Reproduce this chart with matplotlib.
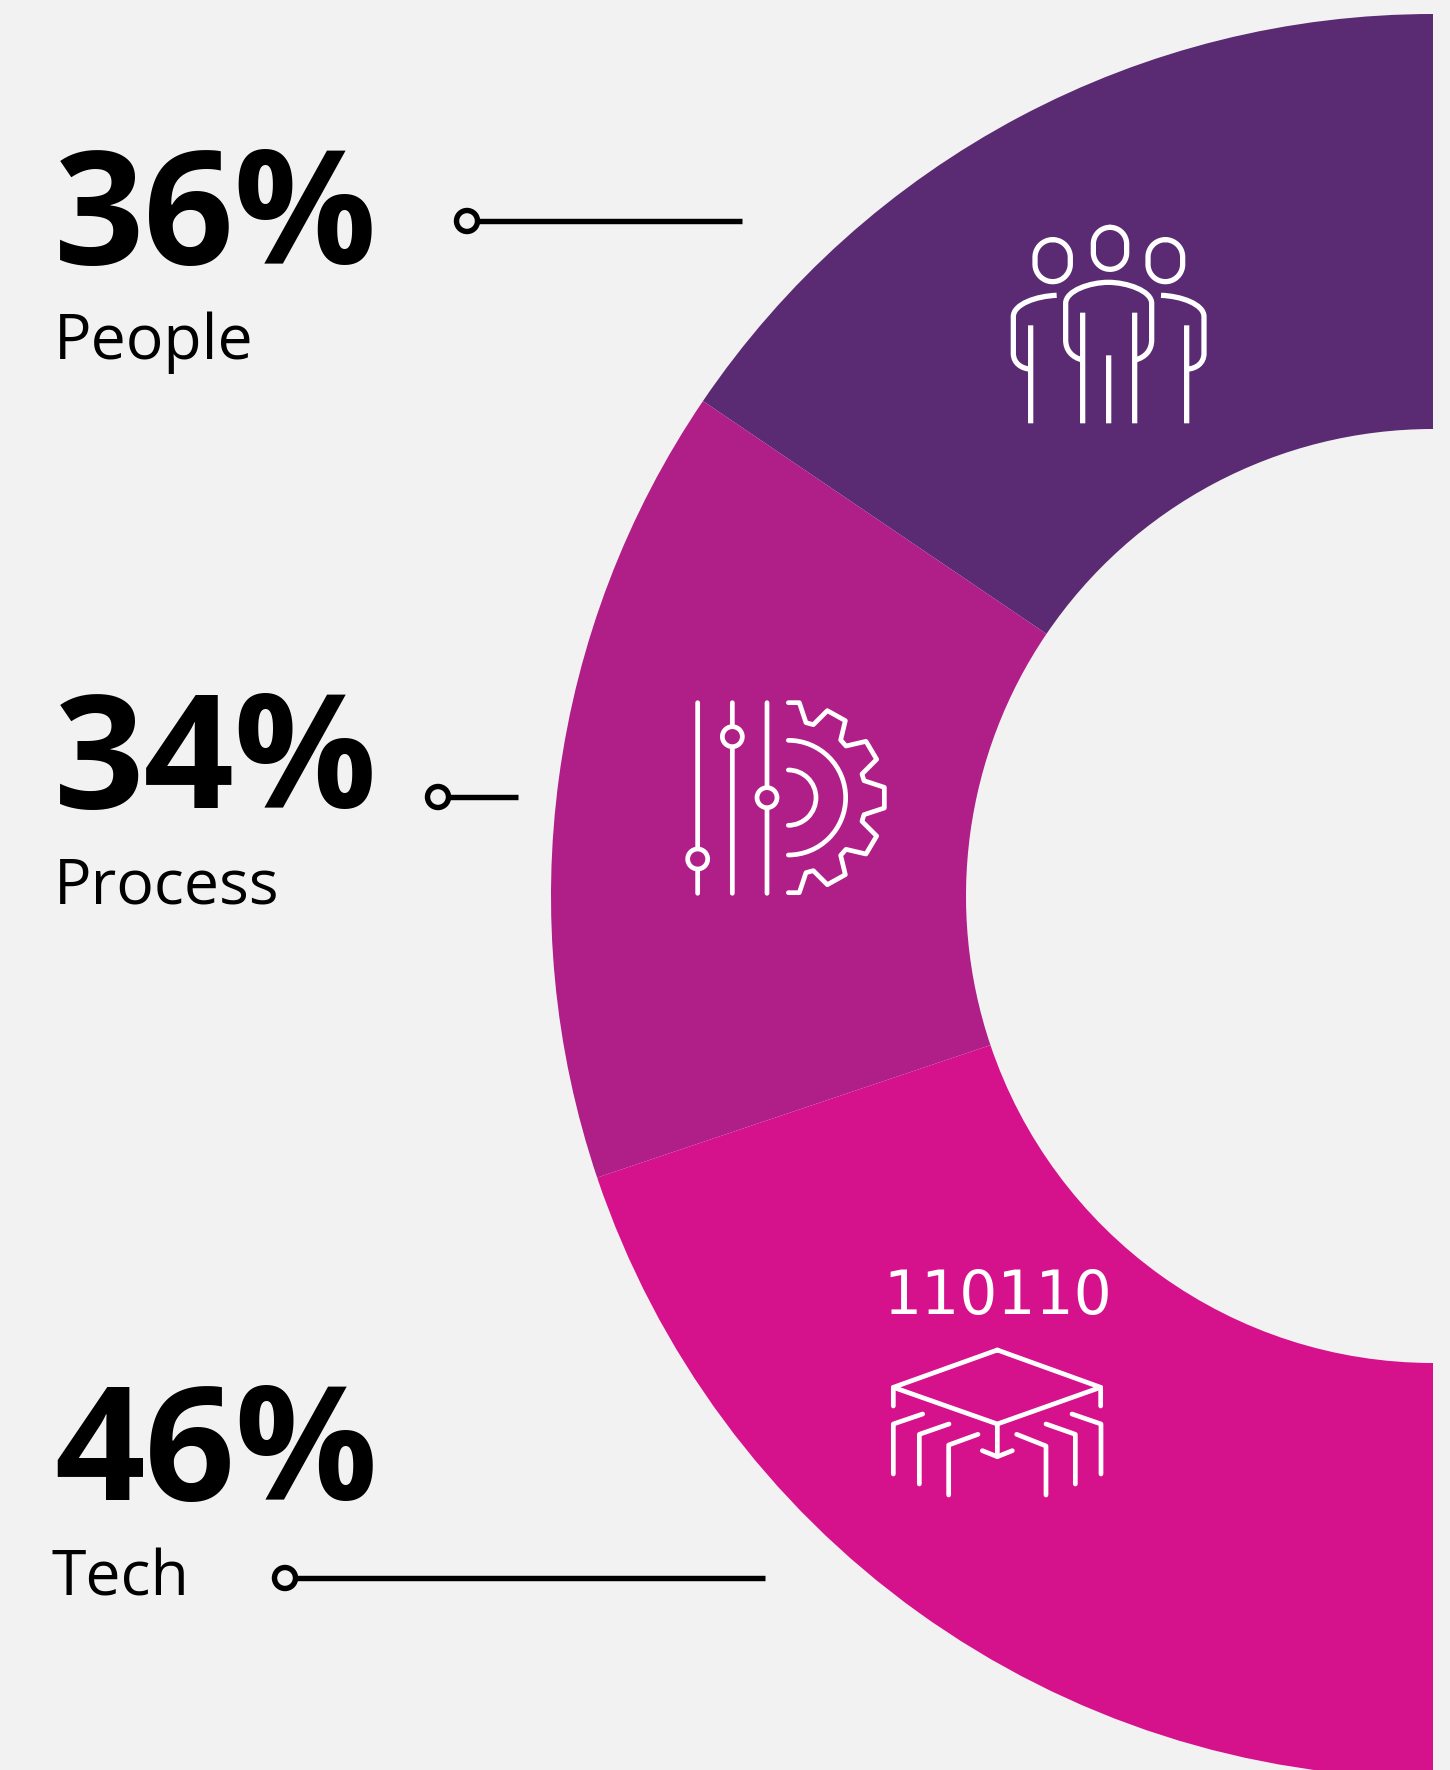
import numpy as np
import matplotlib
matplotlib.use('Agg')
import matplotlib.pyplot as plt
from matplotlib.path import Path
from matplotlib.patches import PathPatch, Circle, Arc

categories = ['People', 'Process', 'Tech']
percents = [36, 34, 46]
icon_digits = '110110'

BG = '#F2F2F2'
wedge_colors = ['#5A2A72', '#B01E87', '#D6118C']

W, H = 1450, 1770
plt.rcParams['font.family'] = ['Open Sans', 'DejaVu Sans']

fig = plt.figure(figsize=(W / 100, H / 100), dpi=100, facecolor=BG)
ax = fig.add_axes([0, 0, 1, 1])

#----- Half donut -----#
# y axis is inverted below so the axes are plain image pixels, that is why
# the pie runs clockwise from -90 here, it shows up counter clockwise from the top
center = (1433, 896)
outer_r = 882
inner_r = 467
vals = percents + [sum(percents)]
ax.pie(vals, colors=wedge_colors + ['none'], startangle=-90, counterclock=False,
       radius=outer_r, center=center, frame=True,
       wedgeprops=dict(width=outer_r - inner_r, linewidth=0))

ax.set_xlim(0, W)
ax.set_ylim(H, 0)
ax.set_aspect('equal')
ax.axis('off')

#----- Text and leaders -----#
number_pos = [(54, 264), (54, 808), (54, 1500)]
label_pos = [(54, 359), (54, 903), (52, 1596)]
leaders = [(467, 221, 742), (438, 797, 518), (285, 1578, 765)]

for i in range(len(categories)):
    ax.text(number_pos[i][0], number_pos[i][1], f'{percents[i]}%', fontsize=114,
            fontweight='bold', color='black', va='baseline', ha='left')
    ax.text(label_pos[i][0], label_pos[i][1], categories[i], fontsize=45,
            color='black', va='baseline', ha='left')
    cx, cy, x_end = leaders[i]
    ax.plot([cx + 11, x_end], [cy, cy], color='black', lw=3.9, solid_capstyle='butt')
    ax.add_patch(Circle((cx, cy), 10.5, fc=BG, ec='black', lw=3.9))


#----- Icons, coordinates are 3x zoom pixels relative to an origin -----#
def stroke(ox, oy, verts, codes=None, lw=3.4, cap='round'):
    v = np.array(verts, dtype=float) / 3 + [ox, oy]
    ax.add_patch(PathPatch(Path(v, codes), fc='none', ec='white', lw=lw,
                           capstyle=cap, joinstyle='round', snap=False))


def head(ox, oy, x0, y0, x1, y1):
    # stadium shape, starts at the middle of the top so the seam doesn't show
    r = (x1 - x0) / 2
    xc = (x0 + x1) / 2
    a = np.linspace(-np.pi / 2, np.pi / 2, 30)
    right = np.c_[xc + r * np.cos(a), y0 + r + r * np.sin(a)]
    right[15:, 1] = y1 - r + r * np.sin(a[15:])
    left = np.c_[2 * xc - right[::-1, 0], right[::-1, 1]]
    stroke(ox, oy, np.vstack([right, left[::-1][::-1]]), lw=3.8)


M, L, C = Path.MOVETO, Path.LINETO, Path.CURVE4

# people
ox, oy = 980, 200
head(ox, oy, 340, 82, 440, 208)
head(ox, oy, 165, 119, 271, 245)
head(ox, oy, 504, 119, 608, 245)
stroke(ox, oy, [(308, 480), (275, 472), (257, 450), (257, 420), (257, 310),
                (257, 272), (330, 247), (385, 247), (440, 247), (515, 272), (515, 310),
                (515, 420), (515, 450), (497, 472), (465, 480)],
       [M, C, C, C, L, C, C, C, C, C, C, L, C, C, C], lw=3.8, cap='butt')
stroke(ox, oy, [(230, 286), (170, 288), (100, 312), (100, 350), (100, 460),
                (100, 490), (125, 505), (148, 507)],
       [M, C, C, C, L, C, C, C], lw=3.8, cap='butt')
stroke(ox, oy, [(543, 286), (602, 288), (672, 312), (672, 350), (672, 460),
                (672, 490), (648, 505), (625, 507)],
       [M, C, C, C, L, C, C, C], lw=3.8, cap='butt')
for x, y0 in [(152, 376), (308, 338), (386, 466), (464, 338), (620, 376)]:
    stroke(ox, oy, [(x, y0), (x, 670)], lw=3.8, cap='butt')

# process
ox, oy = 670, 680
for x, knob in [(83, 537), (187, 170), (291, 353)]:
    stroke(ox, oy, [(x, 68), (x, knob - 33)])
    stroke(ox, oy, [(x, knob + 33), (x, 640)])
    ax.add_patch(Circle((ox + x / 3, oy + knob / 3), 10, fc='none', ec='white', lw=3.4))

gear_top = [(355, 68), (388, 68), (408, 128), (430, 134), (472, 92), (526, 122), (512, 180),
            (528, 198), (588, 184), (620, 238), (576, 282), (582, 302), (643, 322)]
gear = gear_top + [(x, 706 - y) for x, y in gear_top[::-1]]
stroke(ox, oy, gear)
for r in [83, 172]:
    ax.add_patch(Arc((ox + 355 / 3, oy + 353 / 3), 2 * r / 3, 2 * r / 3, theta1=-90, theta2=90,
                     ec='white', lw=3.4, capstyle='round'))

# tech
ox, oy = 860, 1250
ax.text(ox + 412 / 3, oy + 192 / 3, icon_digits, family='DejaVu Sans', fontsize=43,
        color='white', ha='center', va='baseline')
stroke(ox, oy, [(412, 300), (722, 412), (412, 522), (100, 412), (412, 300)])
stroke(ox, oy, [(100, 412), (100, 468)])
stroke(ox, oy, [(722, 412), (722, 468)])
stroke(ox, oy, [(412, 522), (412, 620)])
stroke(ox, oy, [(367, 602), (412, 620), (457, 602)])
stroke(ox, oy, [(100, 672), (100, 522), (188, 492)])
stroke(ox, oy, [(178, 702), (178, 553), (267, 522)])
stroke(ox, oy, [(266, 735), (266, 585), (354, 553)])
stroke(ox, oy, [(723, 672), (723, 522), (636, 492)])
stroke(ox, oy, [(646, 702), (646, 553), (558, 522)])
stroke(ox, oy, [(558, 735), (558, 588), (470, 553)])

fig.savefig('out.png', dpi=100)
